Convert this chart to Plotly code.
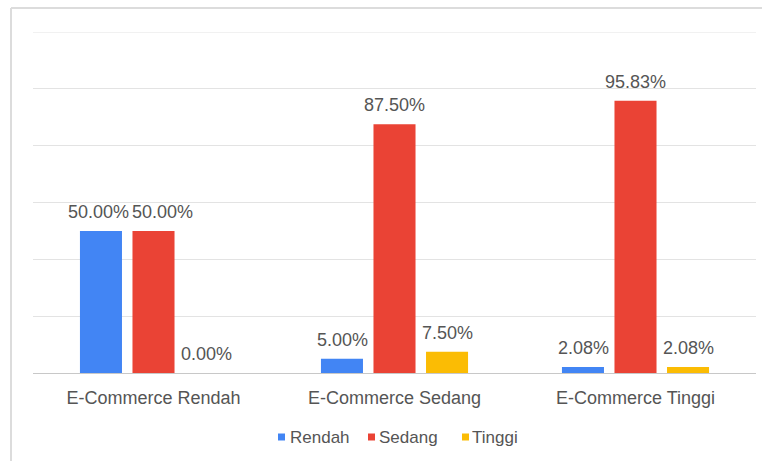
import plotly.graph_objects as go

categories = ["E-Commerce Rendah", "E-Commerce Sedang", "E-Commerce Tinggi"]
series_names = ["Rendah", "Sedang", "Tinggi"]
rendah = [0.50, 0.05, 0.0208]
sedang = [0.50, 0.875, 0.9583]
tinggi = [0.0, 0.075, 0.0208]
colors = ["#4285F4", "#EA4335", "#FBBC04"]

FONT = "Liberation Sans, Arial, sans-serif"
TEXT_COLOR = "#555555"

# plot-area geometry in pixels (used to place the hand-built legend)
W, H = 762, 461
ML, MR, MT, MB = 33, 6, 32, 88
PW, PH = W - ML - MR, H - MT - MB
Y_MAX = 1.2


def px_x(px):
    return (px - ML) / PW


def px_y(py):
    return (H - MB - py) / PH


fig = go.Figure()
all_series = [rendah, sedang, tinggi]
for name, vals, col in zip(series_names, all_series, colors):
    fig.add_trace(go.Bar(
        x=categories, y=vals, name=name,
        marker=dict(color=col, line=dict(width=0)),
        showlegend=False,
    ))

# value labels above each bar, offset to the bar's slot within its group;
# neighbouring labels at (nearly) the same height are pushed apart
slot_px = 52.5
label_w = 62
for j, cat in enumerate(categories):
    vals = [s[j] for s in all_series]
    shifts = [(i - 1) * slot_px for i in range(len(vals))]
    for i in range(len(vals) - 1):
        same_row = abs(vals[i] - vals[i + 1]) * PH / Y_MAX < 20
        gap = (shifts[i + 1] - shifts[i]) - label_w
        if same_row and gap < 2:
            push = 2 - gap
            shifts[i] -= push * 0.25
            shifts[i + 1] += push * 0.75
    for v, dx in zip(vals, shifts):
        fig.add_annotation(
            x=cat, y=v, xref="x", yref="y",
            xshift=dx, yshift=7,
            xanchor="center", yanchor="bottom", showarrow=False,
            text=f"{v * 100:.2f}%",
            font=dict(family=FONT, size=18, color=TEXT_COLOR),
        )

# legend row beneath the axis: small square swatch + series name
legend_px = [(278, 288), (368, 377), (462, 470)]
legend_cy = 437
for name, col, (sx, tx) in zip(series_names, colors, legend_px):
    fig.add_shape(type="rect", xref="paper", yref="paper",
                  x0=px_x(sx), x1=px_x(sx + 7),
                  y0=px_y(legend_cy + 3.5), y1=px_y(legend_cy - 3.5),
                  fillcolor=col, line=dict(width=0))
    fig.add_annotation(
        xref="paper", yref="paper", x=px_x(tx), y=px_y(legend_cy),
        xanchor="left", yanchor="middle", showarrow=False,
        text=name, font=dict(family=FONT, size=17, color=TEXT_COLOR),
    )

# top gridline at the axis maximum
fig.add_shape(type="line", xref="paper", yref="y", layer="below",
              x0=0, x1=1, y0=Y_MAX, y1=Y_MAX,
              line=dict(color="#e3e3e3", width=1))

# card outline on the left and top edges
fig.add_shape(type="line", xref="paper", yref="paper",
              x0=px_x(11), x1=px_x(11), y0=px_y(470), y1=px_y(8),
              line=dict(color="#dcdcdc", width=2))
fig.add_shape(type="line", xref="paper", yref="paper",
              x0=px_x(11), x1=px_x(770), y0=px_y(8), y1=px_y(8),
              line=dict(color="#dcdcdc", width=2))

fig.update_layout(
    width=W, height=H,
    margin=dict(l=ML, r=MR, t=MT, b=MB),
    paper_bgcolor="white", plot_bgcolor="white",
    barmode="group", bargap=0.346, bargroupgap=0.2,
    font=dict(family=FONT, size=18, color=TEXT_COLOR),
    xaxis=dict(showline=False, ticks="", ticklabelstandoff=12,
               tickfont=dict(size=18, color=TEXT_COLOR)),
    yaxis=dict(range=[0, Y_MAX], dtick=0.2,
               showticklabels=False,
               gridcolor="#e3e3e3", gridwidth=1,
               zeroline=True, zerolinecolor="#c8c8c8", zerolinewidth=1),
)

fig.write_html("out.html")
